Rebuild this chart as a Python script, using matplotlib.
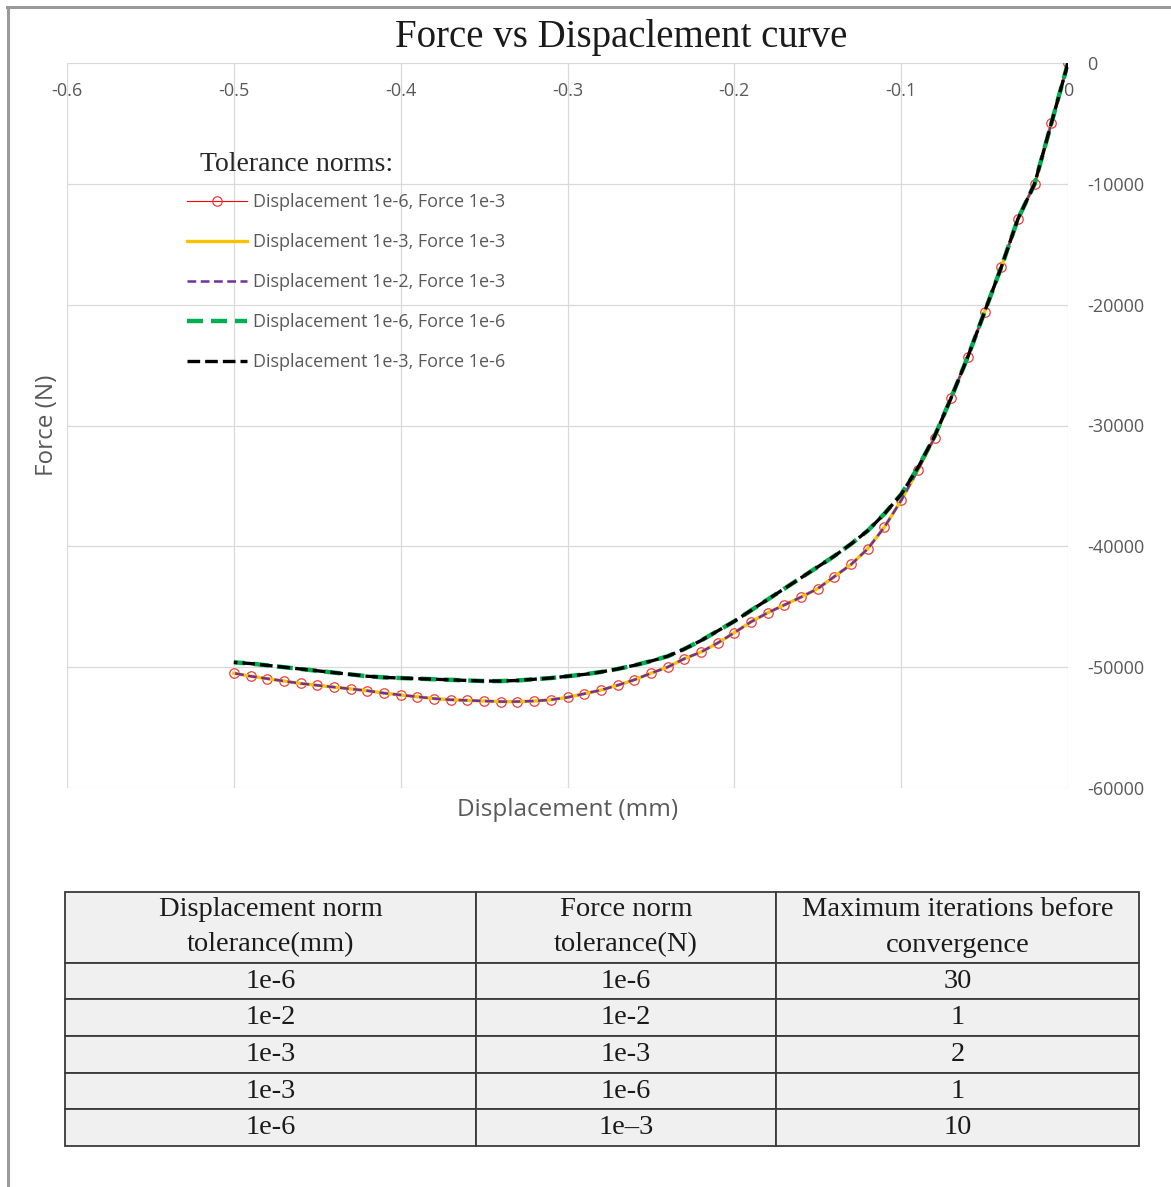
import matplotlib
matplotlib.use("Agg")
import matplotlib.pyplot as plt
from matplotlib.lines import Line2D
from matplotlib.ticker import FuncFormatter

# ---------------- data ----------------
displacement = [0.00, -0.01, -0.02, -0.03, -0.04, -0.05, -0.06, -0.07, -0.08, -0.09,
                -0.10, -0.11, -0.12, -0.13, -0.14, -0.15, -0.16, -0.17, -0.18, -0.19,
                -0.20, -0.21, -0.22, -0.23, -0.24, -0.25, -0.26, -0.27, -0.28, -0.29,
                -0.30, -0.31, -0.32, -0.33, -0.34, -0.35, -0.36, -0.37, -0.38, -0.39,
                -0.40, -0.41, -0.42, -0.43, -0.44, -0.45, -0.46, -0.47, -0.48, -0.49,
                -0.50]

# force-norm tolerance 1e-3 runs (all three coincide)
force_f3 = [0, -5000, -10000, -12900, -16900, -20600, -24300, -27700, -31000, -33700,
            -36200, -38400, -40200, -41500, -42500, -43500, -44200, -44850, -45500, -46250,
            -47150, -48000, -48750, -49300, -50000, -50500, -51050, -51500, -51900, -52200,
            -52500, -52700, -52800, -52850, -52850, -52800, -52750, -52700, -52600, -52450,
            -52300, -52150, -51950, -51800, -51650, -51500, -51350, -51150, -50950, -50750,
            -50500]

# force-norm tolerance 1e-6 runs (both coincide)
force_f6 = [0, -5000, -10000, -12900, -16900, -20600, -24300, -27700, -30900, -33500,
            -35700, -37300, -38700, -39800, -40800, -41700, -42600, -43500, -44400, -45300,
            -46200, -47000, -47800, -48500, -49100, -49500, -49850, -50150, -50400, -50600,
            -50750, -50900, -51000, -51100, -51150, -51150, -51100, -51050, -51000, -50950,
            -50900, -50850, -50750, -50600, -50450, -50300, -50150, -50000, -49850, -49700,
            -49600]

series_labels = ["Displacement 1e-6, Force 1e-3",
                 "Displacement 1e-3, Force 1e-3",
                 "Displacement 1e-2, Force 1e-3",
                 "Displacement 1e-6, Force 1e-6",
                 "Displacement 1e-3, Force 1e-6"]

x_ticks = [-0.6, -0.5, -0.4, -0.3, -0.2, -0.1, 0]
y_ticks = [0, -10000, -20000, -30000, -40000, -50000, -60000]

table_header = ["Displacement norm\ntolerance(mm)",
                "Force norm\ntolerance(N)",
                "Maximum iterations before\nconvergence"]
table_disp_tol = ["1e-6", "1e-2", "1e-3", "1e-3", "1e-6"]
table_force_tol = ["1e-6", "1e-2", "1e-3", "1e-6", "1e\u20133"]
table_iterations = ["30", "1", "2", "1", "10"]

# ---------------- figure ----------------
W, H = 1171, 1187
fig = plt.figure(figsize=(W / 100, H / 100), dpi=100)
fig.patch.set_facecolor("white")


def fx(px):
    return px / W


def fy(py):
    return 1 - py / H


sans = "Open Sans"
serif = "Liberation Serif"
tick_color = "#595959"
grid_color = "#d9d9d9"

ax = fig.add_axes([fx(67), fy(788), fx(1068) - fx(67), fy(63) - fy(788)])
ax.set_xlim(-0.6, 0)
ax.set_ylim(-60000, 0)
for s in ax.spines.values():
    s.set_visible(False)

ax.set_xticks(x_ticks)
ax.set_yticks(y_ticks)
ax.grid(True, color=grid_color, linewidth=0.9)
ax.set_axisbelow(True)

ax.xaxis.set_major_formatter(FuncFormatter(lambda v, p: ("%g" % v).replace("\u2212", "-")))
ax.yaxis.set_major_formatter(FuncFormatter(lambda v, p: "%d" % v))
ax.tick_params(axis="x", which="both", length=0, labeltop=True, labelbottom=False,
               pad=-27, labelsize=13, labelcolor=tick_color)
ax.yaxis.tick_right()
ax.tick_params(axis="y", which="both", length=0, pad=14, labelsize=13,
               labelcolor=tick_color)
for lab in ax.get_xticklabels() + ax.get_yticklabels():
    lab.set_fontfamily(sans)

# series
ax.plot(displacement, force_f3, color="#ff0000", linewidth=0.8, marker="o",
        markersize=6.8, markerfacecolor="none", markeredgecolor="#f03c3c",
        markeredgewidth=0.9, label=series_labels[0], zorder=3)
ax.plot(displacement, force_f3, color="#ffc000", linewidth=2.4,
        label=series_labels[1], zorder=4)
ax.plot(displacement, force_f3, color="#7030a0", linewidth=1.8, dashes=(3.5, 1.8),
        label=series_labels[2], zorder=5)
ax.plot(displacement, force_f6, color="#00b050", linewidth=3.2, dashes=(3.6, 1.8),
        label=series_labels[3], zorder=6)
ax.plot(displacement, force_f6, color="#000000", linewidth=2.4, dashes=(3.8, 1.5),
        label=series_labels[4], zorder=7)

# axis titles
ax.text(0.5, -(810 - 788) / 725, "Displacement (mm)", transform=ax.transAxes,
        ha="center", va="center", fontsize=17.5, color=tick_color, family=sans)
ax.text((47 - 67) / 1001, (788 - 425) / 725, "Force (N)", transform=ax.transAxes,
        ha="center", va="center", rotation=90, fontsize=17.5, color=tick_color,
        family=sans)

# legend
leg = ax.legend(loc="upper left", bbox_to_anchor=(fx(187), fy(193)),
                bbox_transform=fig.transFigure, frameon=False, fontsize=13,
                handlelength=3.3, handletextpad=0.33, labelspacing=1.22,
                borderpad=0, borderaxespad=0)
for t in leg.get_texts():
    t.set_color(tick_color)
    t.set_fontfamily(sans)
fig.text(fx(200), fy(165), "Tolerance norms:", ha="left", va="center",
         fontsize=20, family=serif, color="#262626")

# chart title
fig.text(fx(621), fy(37), "Force vs Dispaclement curve", ha="center", va="center",
         fontsize=28, family=serif, color="#1a1a1a")

# outer frame lines
fig.add_artist(Line2D([fx(7), 1], [fy(6.5), fy(6.5)], transform=fig.transFigure,
                      color="#9a9a9a", linewidth=2.2))
fig.add_artist(Line2D([fx(8), fx(8)], [fy(6.5), 0], transform=fig.transFigure,
                      color="#9a9a9a", linewidth=2.2))

# ---------------- table ----------------
tax = fig.add_axes([0, 0, 1, 1])
tax.set_axis_off()
tax.set_xlim(0, 1)
tax.set_ylim(0, 1)
rows = [list(r) for r in zip(table_disp_tol, table_force_tol, table_iterations)]
col_px = [411, 300, 363]
tot = sum(col_px)
tbl = tax.table(cellText=rows, colLabels=table_header, cellLoc="center",
                colWidths=[c / tot for c in col_px],
                bbox=[fx(65), fy(1146), fx(1139) - fx(65), fy(892) - fy(1146)])
tbl.auto_set_font_size(False)
for (r, c), cell in tbl.get_celld().items():
    cell.set_facecolor("#f0f0f0")
    cell.set_edgecolor("#3a3a3a")
    cell.set_linewidth(1.3)
    cell.set_height(1.93 if r == 0 else 1.0)
    txt = cell.get_text()
    txt.set_fontfamily(serif)
    txt.set_fontsize(20.5)
    txt.set_color("#1a1a1a")
    txt.set_linespacing(1.55)

fig.savefig("out.png", dpi=100)
